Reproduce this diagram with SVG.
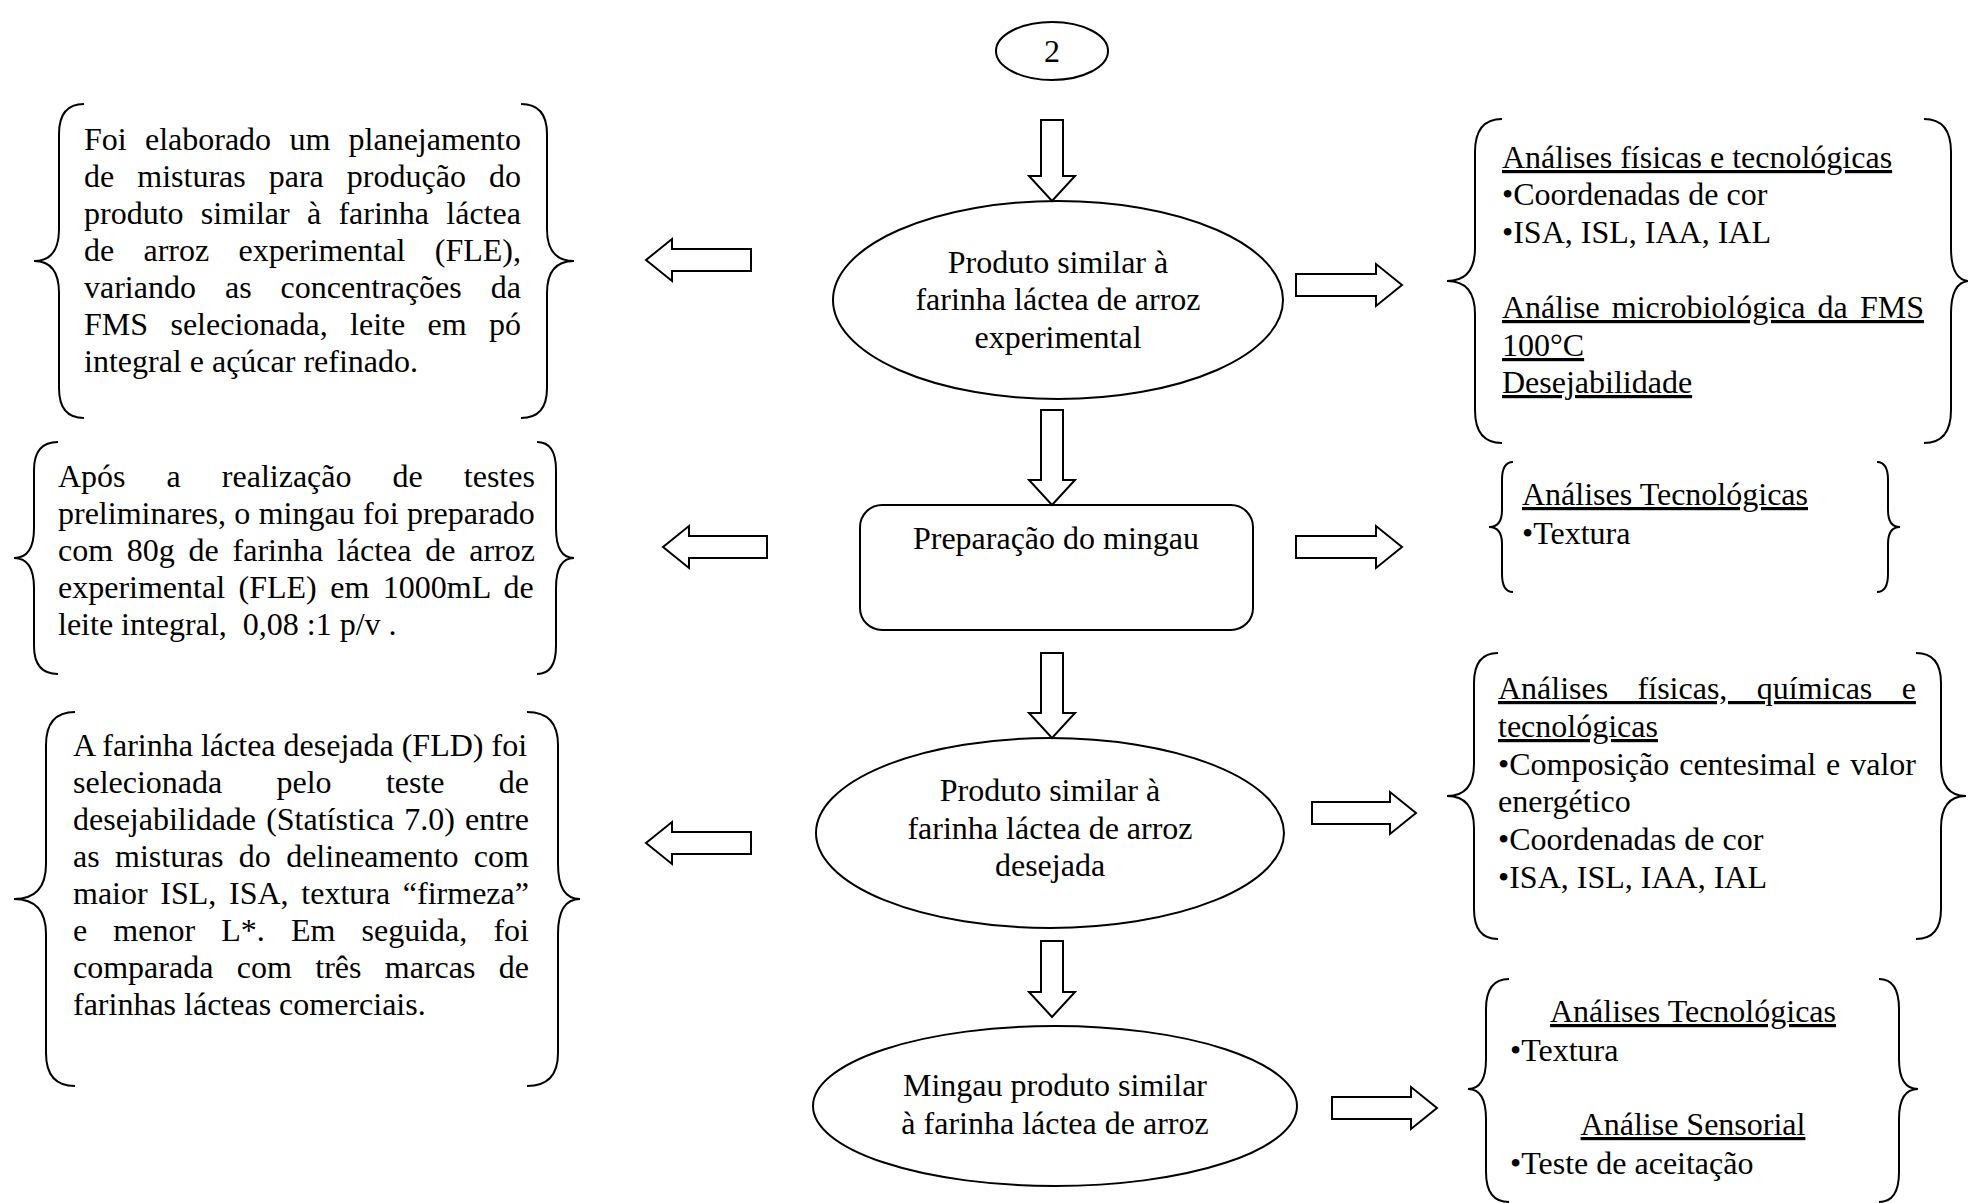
<svg xmlns="http://www.w3.org/2000/svg" width="1968" height="1203" viewBox="0 0 1968 1203">
<style>
.t{font-family:"Liberation Serif","Times New Roman",serif;font-size:32px;fill:#000}
.c{text-anchor:middle}
.u{text-decoration:underline}
.ln{fill:none;stroke:#000;stroke-width:2}
.sh{fill:#fff;stroke:#000;stroke-width:2}
.ar{fill:#fff;stroke:#000;stroke-width:2;stroke-linejoin:miter}
</style>
<rect width="1968" height="1203" fill="#fff"/>

<g id="start">
<ellipse class="sh" cx="1052" cy="51" rx="56" ry="29"/>
<text class="t c" x="1052" y="62">2</text>
</g>

<g id="n1">
<ellipse class="sh" cx="1058" cy="300" rx="225" ry="99"/>
<text class="t c" x="1058" y="273">Produto similar à</text>
<text class="t c" x="1058" y="310">farinha láctea de arroz</text>
<text class="t c" x="1058" y="348">experimental</text>
</g>

<g id="n2">
<rect class="sh" x="860" y="505" width="393" height="125" rx="22"/>
<text class="t c" x="1056" y="549">Preparação do mingau</text>
</g>

<g id="n3">
<ellipse class="sh" cx="1050" cy="833" rx="234" ry="95"/>
<text class="t c" x="1050" y="801">Produto similar à</text>
<text class="t c" x="1050" y="839">farinha láctea de arroz</text>
<text class="t c" x="1050" y="876">desejada</text>
</g>

<g id="n4">
<ellipse class="sh" cx="1055" cy="1106" rx="242" ry="80"/>
<text class="t c" x="1055" y="1096">Mingau produto similar</text>
<text class="t c" x="1055" y="1134">à farinha láctea de arroz</text>
</g>

<g id="noteL1">
<path class="ln" d="M84,104 Q59,104 59,134 L59,229 Q59,261 34,261 Q59,261 59,293 L59,388 Q59,418 84,418"/>
<path class="ln" d="M521,104 Q547,104 547,134 L547,229 Q547,261 574,261 Q547,261 547,293 L547,388 Q547,418 521,418"/>
<text class="t" x="84" y="150" word-spacing="10.27">Foi elaborado um planejamento</text>
<text class="t" x="84" y="187" word-spacing="15.05">de misturas para produção do</text>
<text class="t" x="84" y="224" word-spacing="9.28">produto similar à farinha láctea</text>
<text class="t" x="84" y="261" word-spacing="21.27">de arroz experimental (FLE),</text>
<text class="t" x="84" y="298" word-spacing="20.97">variando as concentrações da</text>
<text class="t" x="84" y="335" word-spacing="14.4">FMS selecionada, leite em pó</text>
<text class="t" x="84" y="372">integral e açúcar refinado.</text>
</g>

<g id="noteL2">
<path class="ln" d="M58,442 Q34,442 34,470 L34,528 Q34,558 14,558 Q34,558 34,588 L34,646 Q34,674 58,674"/>
<path class="ln" d="M537,442 Q556,442 556,470 L556,528 Q556,558 574,558 Q556,558 556,588 L556,646 Q556,674 537,674"/>
<text class="t" x="58" y="487" word-spacing="33.05">Após a realização de testes</text>
<text class="t" x="58" y="524" word-spacing="0.37">preliminares, o mingau foi preparado</text>
<text class="t" x="58" y="561" word-spacing="5.75">com 80g de farinha láctea de arroz</text>
<text class="t" x="58" y="598" word-spacing="5.5">experimental (FLE) em 1000mL de</text>
<text class="t" x="58" y="635" xml:space="preserve">leite integral,  0,08 :1 p/v .</text>
</g>

<g id="noteL3">
<path class="ln" d="M75,712 Q46,712 46,745 L46,864 Q46,899 14,899 Q46,899 46,934 L46,1053 Q46,1086 75,1086"/>
<path class="ln" d="M527,712 Q558,712 558,745 L558,864 Q558,899 580,899 Q558,899 558,934 L558,1053 Q558,1086 527,1086"/>
<text class="t" x="73" y="756">A farinha láctea desejada (FLD) foi</text>
<text class="t" x="73" y="793" word-spacing="46.27">selecionada pelo teste de</text>
<text class="t" x="73" y="830" word-spacing="2.1">desejabilidade (Statística 7.0) entre</text>
<text class="t" x="73" y="867" word-spacing="7.35">as misturas do delineamento com</text>
<text class="t" x="73" y="904" word-spacing="4.7">maior ISL, ISA, textura “firmeza”</text>
<text class="t" x="73" y="941" word-spacing="18.14">e menor L*. Em seguida, foi</text>
<text class="t" x="73" y="978" word-spacing="15.4">comparada com três marcas de</text>
<text class="t" x="73" y="1015">farinhas lácteas comerciais.</text>
</g>

<g id="noteR1">
<path class="ln" d="M1502,119 Q1475,119 1475,152 L1475,248 Q1475,281 1447,281 Q1475,281 1475,314 L1475,410 Q1475,443 1502,443"/>
<path class="ln" d="M1924,119 Q1951,119 1951,152 L1951,248 Q1951,281 1970,281 Q1951,281 1951,314 L1951,410 Q1951,443 1924,443"/>
<text class="t u" x="1502" y="168">Análises físicas e tecnológicas</text>
<text class="t" x="1502" y="205">•Coordenadas de cor</text>
<text class="t" x="1502" y="243">•ISA, ISL, IAA, IAL</text>
<text class="t u" x="1502" y="318" word-spacing="4.07">Análise microbiológica da FMS</text>
<text class="t u" x="1502" y="356">100°C</text>
<text class="t u" x="1502" y="393">Desejabilidade</text>
</g>

<g id="noteR2">
<path class="ln" d="M1513,462 Q1502,462 1502,480 L1502,510 Q1502,527 1489,527 Q1502,527 1502,544 L1502,574 Q1502,592 1513,592"/>
<path class="ln" d="M1877,462 Q1888,462 1888,480 L1888,510 Q1888,527 1900,527 Q1888,527 1888,544 L1888,574 Q1888,592 1877,592"/>
<text class="t u" x="1522" y="505">Análises Tecnológicas</text>
<text class="t" x="1522" y="544">•Textura</text>
</g>

<g id="noteR3">
<path class="ln" d="M1498,653 Q1474,653 1474,683 L1474,764 Q1474,796 1447,796 Q1474,796 1474,828 L1474,909 Q1474,939 1498,939"/>
<path class="ln" d="M1916,653 Q1941,653 1941,683 L1941,764 Q1941,796 1966,796 Q1941,796 1941,828 L1941,909 Q1941,939 1916,939"/>
<text class="t u" x="1498" y="699" word-spacing="21.4">Análises físicas, químicas e</text>
<text class="t u" x="1498" y="737">tecnológicas</text>
<text class="t" x="1498" y="775" word-spacing="2">•Composição centesimal e valor</text>
<text class="t" x="1498" y="812">energético</text>
<text class="t" x="1498" y="850">•Coordenadas de cor</text>
<text class="t" x="1498" y="888">•ISA, ISL, IAA, IAL</text>
</g>

<g id="noteR4">
<path class="ln" d="M1509,979 Q1486,979 1486,1009 L1486,1059 Q1486,1089 1468,1089 Q1486,1089 1486,1119 L1486,1172 Q1486,1202 1509,1202"/>
<path class="ln" d="M1879,979 Q1899,979 1899,1009 L1899,1059 Q1899,1089 1918,1089 Q1899,1089 1899,1119 L1899,1172 Q1899,1202 1879,1202"/>
<text class="t c u" x="1693" y="1022">Análises Tecnológicas</text>
<text class="t" x="1510" y="1061">•Textura</text>
<text class="t c u" x="1693" y="1135">Análise Sensorial</text>
<text class="t" x="1510" y="1174">•Teste de aceitação</text>
</g>

<g id="connectors">
<polygon class="ar" points="1041,120 1063,120 1063,176 1075,176 1052,201 1029,176 1041,176"/>
<polygon class="ar" points="1041,410 1063,410 1063,480 1075,480 1052,505 1029,480 1041,480"/>
<polygon class="ar" points="1041,653 1063,653 1063,713 1075,713 1052,738 1029,713 1041,713"/>
<polygon class="ar" points="1041,941 1063,941 1063,992 1075,992 1052,1017 1029,992 1041,992"/>
<polygon class="ar" points="1296,274 1376,274 1376,264 1402,285 1376,306 1376,296 1296,296"/>
<polygon class="ar" points="1296,536 1376,536 1376,526 1402,547 1376,568 1376,558 1296,558"/>
<polygon class="ar" points="1312,802 1390,802 1390,792 1416,813 1390,834 1390,824 1312,824"/>
<polygon class="ar" points="1332,1097 1411,1097 1411,1087 1437,1108 1411,1129 1411,1119 1332,1119"/>
<polygon class="ar" points="751,249 672,249 672,239 646,260 672,281 672,271 751,271"/>
<polygon class="ar" points="767,536 689,536 689,526 663,547 689,568 689,558 767,558"/>
<polygon class="ar" points="751,832 672,832 672,822 646,843 672,864 672,854 751,854"/>
</g>
</svg>
